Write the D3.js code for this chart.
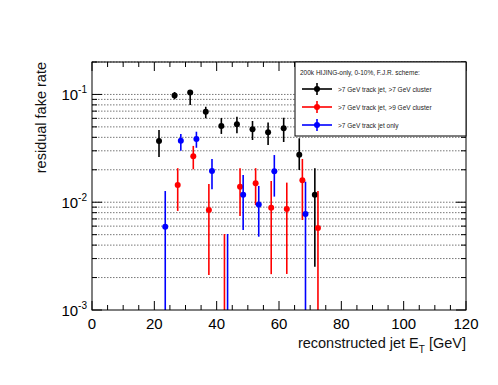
<!DOCTYPE html>
<html>
<head>
<meta charset="utf-8">
<script src="https://cdnjs.cloudflare.com/ajax/libs/d3/7.8.5/d3.min.js"></script>
<style>
  body { margin: 0; background: #fff; }
  text { font-family: "Liberation Sans", Arial, Helvetica, sans-serif; }
</style>
</head>
<body>
<div id="chart"></div>
<script>
// >7 GeV track jet, >7 GeV cluster
var blackX    = [21.5, 26.5, 31.5, 36.5, 41.5, 46.5, 51.5, 56.5, 61.5, 66.5, 71.5];
var blackY    = [0.037, 0.098, 0.104, 0.069, 0.051, 0.053, 0.0475, 0.0446, 0.0486, 0.0276, 0.01175];
var blackHigh = [0.0468, 0.1054, 0.110, 0.0769, 0.0605, 0.0622, 0.0567, 0.0548, 0.0608, 0.0392, 0.0207];
var blackLow  = [0.0263, 0.0902, 0.0798, 0.0601, 0.043, 0.0436, 0.0378, 0.034, 0.0362, 0.0199, 0.00252];

// >7 GeV track jet, >9 GeV cluster
var redX    = [27.5, 32.5, 37.5, 42.5, 47.5, 52.5, 57.5, 62.5, 67.5, 72.5];
var redY    = [0.01445, 0.0267, 0.00848, 0.0007, 0.0139, 0.015, 0.0089, 0.00865, 0.016, 0.00577];
var redHigh = [0.0207, 0.0333, 0.01476, 0.00507, 0.0207, 0.0207, 0.01574, 0.0152, 0.0252, 0.0127];
var redLow  = [0.0083, 0.0202, 0.00211, 0.0005, 0.00745, 0.0094, 0.00215, 0.00216, 0.00684, 0.0005];

// >7 GeV track jet only
var blueX    = [23.5, 28.5, 33.5, 38.5, 43.5, 48.5, 53.5, 58.5, 68.5];
var blueY    = [0.00593, 0.0372, 0.0386, 0.0195, 0.0007, 0.01175, 0.0095, 0.0194, 0.00778];
var blueHigh = [0.0127, 0.043, 0.0451, 0.0252, 0.00507, 0.0179, 0.01416, 0.0274, 0.0155];
var blueLow  = [0.0005, 0.0301, 0.032, 0.0132, 0.0005, 0.00553, 0.00479, 0.01127, 0.0005];

var xTicks = [0, 20, 40, 60, 80, 100, 120];
var yDecades = [-3, -2, -1];

var legendTitle = "200k HIJING-only, 0-10%, F.J.R. scheme:";
var seriesNames = [">7 GeV track jet, >7 GeV cluster", ">7 GeV track jet, >9 GeV cluster", ">7 GeV track jet only"];
var seriesColors = ["#000000", "#ff0000", "#0000ff"];

var margin = {top: 62, right: 32, bottom: 75, left: 92},
    W = 498, H = 385,
    width = W - margin.left - margin.right,
    height = H - margin.top - margin.bottom;

var svg = d3.select("#chart").append("svg")
    .attr("width", W)
    .attr("height", H);

svg.append("rect").attr("width", W).attr("height", H).attr("fill", "#fff");

var xScale = d3.scaleLinear().domain([0, 120]).range([0, width]);
var yScale = d3.scaleLog().domain([0.001, 0.2]).range([height, 0]);

var g = svg.append("g")
    .attr("transform", "translate(" + margin.left + "," + margin.top + ")");

svg.append("clipPath").attr("id", "plotclip")
    .append("rect").attr("width", width).attr("height", height);

// minor values for log axis
var logTicks = [];
yDecades.forEach(function(e) {
    for (var m = 1; m <= 9; m++) {
        var v = m * Math.pow(10, e);
        if (v <= 0.2) logTicks.push({v: v, major: m == 1});
    }
});

// dotted horizontal grid
g.selectAll(".grid")
    .data(logTicks.filter(function(d) { return d.v > 0.001; }))
    .enter().append("line")
    .attr("class", "grid")
    .attr("x1", 0).attr("x2", width)
    .attr("y1", function(d) { return yScale(d.v); })
    .attr("y2", function(d) { return yScale(d.v); })
    .attr("stroke", "#777")
    .attr("stroke-width", 1)
    .attr("stroke-dasharray", "1.5,1.5");

// x ticks (bottom and top, inside)
var xMinor = d3.range(0, 121, 5);
[height, 0].forEach(function(base) {
    var dir = base == height ? -1 : 1;
    g.selectAll(null).data(xMinor).enter().append("line")
        .attr("x1", function(d) { return xScale(d); })
        .attr("x2", function(d) { return xScale(d); })
        .attr("y1", base)
        .attr("y2", function(d) { return base + dir * (d % 20 == 0 ? 9 : 5); })
        .attr("stroke", "#000").attr("stroke-width", 1);
});

// y ticks (left and right, inside)
[0, width].forEach(function(base) {
    var dir = base == 0 ? 1 : -1;
    g.selectAll(null).data(logTicks).enter().append("line")
        .attr("x1", base)
        .attr("x2", function(d) { return base + dir * (d.major ? 10 : 5); })
        .attr("y1", function(d) { return yScale(d.v); })
        .attr("y2", function(d) { return yScale(d.v); })
        .attr("stroke", "#000").attr("stroke-width", 1);
});

// x tick labels
g.selectAll(".xlab").data(xTicks).enter().append("text")
    .attr("class", "xlab")
    .attr("x", function(d) { return xScale(d); })
    .attr("y", height + 19)
    .attr("text-anchor", "middle")
    .style("font-size", "15px")
    .text(function(d) { return d; });

// y tick labels 10^e
var ylab = g.selectAll(".ylab").data(yDecades).enter().append("text")
    .attr("class", "ylab")
    .attr("x", -5)
    .attr("y", function(d) { return yScale(Math.pow(10, d)) + 6; })
    .attr("text-anchor", "end")
    .style("font-size", "15px");
ylab.append("tspan").text("10");
ylab.append("tspan")
    .attr("dy", -7)
    .style("font-size", "10px")
    .text(function(d) { return "-" + Math.abs(d); });

// axis titles
var xt = svg.append("text")
    .attr("x", margin.left + width)
    .attr("y", 348)
    .attr("text-anchor", "end")
    .style("font-size", "14.5px")
    .style("fill", "#111");
xt.append("tspan").text("reconstructed jet E");
xt.append("tspan").attr("dy", 5).style("font-size", "10px").text("T");
xt.append("tspan").attr("dy", -5).text(" [GeV]");

svg.append("text")
    .attr("transform", "translate(46," + margin.top + ") rotate(-90)")
    .attr("text-anchor", "end")
    .style("font-size", "14.5px")
    .style("fill", "#111")
    .text("residual fake rate");

// data series
var series = [
    {x: blackX, y: blackY, hi: blackHigh, lo: blackLow},
    {x: redX, y: redY, hi: redHigh, lo: redLow},
    {x: blueX, y: blueY, hi: blueHigh, lo: blueLow}
];

var plot = g.append("g").attr("clip-path", "url(#plotclip)");

series.forEach(function(s, i) {
    var pts = s.x.map(function(x, j) {
        return {x: x, y: s.y[j], hi: s.hi[j], lo: s.lo[j]};
    });
    var sg = plot.append("g");
    sg.selectAll("line").data(pts).enter().append("line")
        .attr("x1", function(d) { return xScale(d.x); })
        .attr("x2", function(d) { return xScale(d.x); })
        .attr("y1", function(d) { return yScale(d.hi); })
        .attr("y2", function(d) { return Math.min(height, yScale(d.lo)); })
        .attr("stroke", seriesColors[i])
        .attr("stroke-width", 1.6);
    sg.selectAll("circle").data(pts.filter(function(d) { return d.y > 0.001; }))
        .enter().append("circle")
        .attr("cx", function(d) { return xScale(d.x); })
        .attr("cy", function(d) { return yScale(d.y); })
        .attr("r", 3)
        .attr("fill", seriesColors[i]);
});

// frame
g.append("rect")
    .attr("width", width).attr("height", height)
    .attr("fill", "none").attr("stroke", "#000").attr("stroke-width", 1);

// legend
var leg = svg.append("g").attr("transform", "translate(295,62)");
leg.append("rect")
    .attr("width", 171).attr("height", 74)
    .attr("fill", "#fff").attr("stroke", "#000").attr("stroke-width", 1);
leg.append("text")
    .attr("x", 5).attr("y", 13)
    .style("font-size", "6.5px")
    .style("fill", "#222")
    .text(legendTitle);

var entry = leg.selectAll(".entry").data(seriesNames).enter().append("g")
    .attr("class", "entry")
    .attr("transform", function(d, i) { return "translate(0," + (27 + 18 * i) + ")"; });
entry.append("line")
    .attr("x1", 7).attr("x2", 37).attr("y1", 0).attr("y2", 0)
    .attr("stroke", function(d, i) { return seriesColors[i]; })
    .attr("stroke-width", 1.6);
entry.append("line")
    .attr("x1", 22).attr("x2", 22).attr("y1", -6).attr("y2", 6)
    .attr("stroke", function(d, i) { return seriesColors[i]; })
    .attr("stroke-width", 1.6);
entry.append("circle")
    .attr("cx", 22).attr("cy", 0).attr("r", 3)
    .attr("fill", function(d, i) { return seriesColors[i]; });
entry.append("text")
    .attr("x", 43).attr("y", 2.5)
    .style("font-size", "6.5px")
    .style("fill", "#222")
    .text(function(d) { return d; });
</script>
</body>
</html>
